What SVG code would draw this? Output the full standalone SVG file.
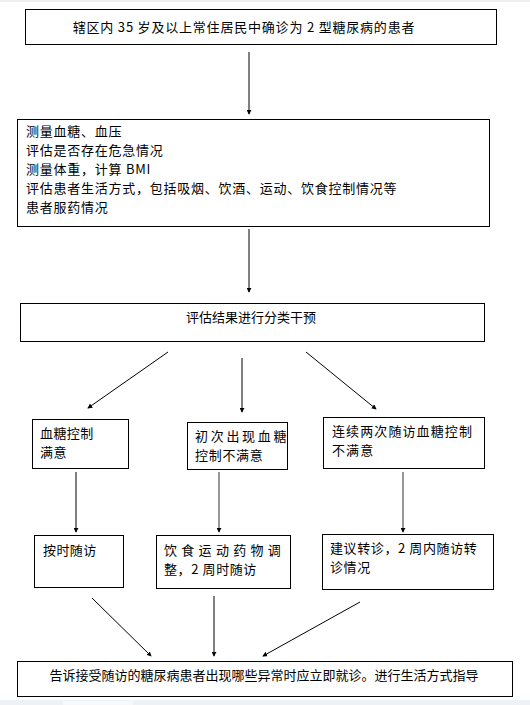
<svg xmlns="http://www.w3.org/2000/svg" width="530" height="705" viewBox="0 0 530 705">
<style>
.box{fill:#fff;stroke:#000;stroke-width:1}
text{font-family:"Noto Sans CJK SC","Noto Sans",sans-serif;font-size:13px;fill:#000}
.c{stroke:#000;stroke-width:1;fill:none;marker-end:url(#ah)}
.g{stroke:#6a6a6a;stroke-width:1.4;fill:none;marker-end:url(#ah)}
</style>
<defs>
<marker id="ah" viewBox="0 0 6 6" refX="5" refY="3" markerWidth="5" markerHeight="5" markerUnits="userSpaceOnUse" orient="auto">
<path d="M0,0 L6,3 L0,6 z" fill="#000"/>
</marker>
</defs>
<rect width="530" height="705" fill="#fff"/>
<rect x="0" y="0" width="530" height="2" fill="#f0f0f0"/>
<rect x="0" y="700" width="530" height="5" fill="#eef2f7"/>
<rect x="63" y="701" width="70" height="4" fill="#f6f8fb"/>

<g id="n1"><rect class="box" x="25.5" y="9.5" width="471" height="35"/>
<text x="244" y="31.5" text-anchor="middle" letter-spacing="0.8">辖区内 35 岁及以上常住居民中确诊为 2 型糖尿病的患者</text></g>

<g id="n2"><rect class="box" x="17.5" y="119.5" width="472" height="107"/>
<text x="26" letter-spacing="0.75"><tspan x="26" y="136">测量血糖、血压</tspan><tspan x="26" y="155">评估是否存在危急情况</tspan><tspan x="26" y="174">测量体重，计算 BMI</tspan><tspan x="26" y="193">评估患者生活方式，包括吸烟、饮酒、运动、饮食控制情况等</tspan><tspan x="26" y="212">患者服药情况</tspan></text></g>

<g id="n3"><rect class="box" x="20.5" y="303.5" width="464" height="38"/>
<text x="251" y="322" text-anchor="middle" font-size="13.5">评估结果进行分类干预</text></g>

<g id="nA"><rect class="box" x="32.5" y="419.5" width="96" height="49"/>
<text x="40" y="438" letter-spacing="0.4">血糖控制</text><text x="40" y="457" letter-spacing="0.4">满意</text></g>

<g id="nB"><rect class="box" x="187.5" y="422.5" width="100" height="47"/>
<text x="195" y="440.5" letter-spacing="2.7">初次出现血糖</text><text x="195" y="459.5" letter-spacing="0.7">控制不满意</text></g>

<g id="nC"><rect class="box" x="323.5" y="417.5" width="161" height="51"/>
<text x="332" y="436" letter-spacing="1.1">连续两次随访血糖控制</text><text x="332" y="455" letter-spacing="1.1">不满意</text></g>

<g id="nD"><rect class="box" x="34.5" y="535.5" width="89" height="52"/>
<text x="43" y="555" letter-spacing="0.4">按时随访</text></g>

<g id="nE"><rect class="box" x="156.5" y="535.5" width="134" height="53"/>
<text x="164" y="555" letter-spacing="4.3">饮食运动药物调</text><text x="164" y="574" letter-spacing="0.6">整，2 周时随访</text></g>

<g id="nF"><rect class="box" x="322.5" y="534.5" width="171" height="55"/>
<text x="330" y="553" letter-spacing="0.6">建议转诊，2 周内随访转</text><text x="330" y="572" letter-spacing="0.6">诊情况</text></g>

<g id="n4"><rect class="box" x="17.5" y="661.5" width="495" height="35"/>
<text x="264" y="680" text-anchor="middle" font-size="14">告诉接受随访的糖尿病患者出现哪些异常时应立即就诊。进行生活方式指导</text></g>

<g id="connectors">
<line class="c" x1="249" y1="52" x2="249" y2="114"/>
<line class="c" x1="249" y1="229" x2="249" y2="292"/>
<line class="c" x1="168" y1="352" x2="88" y2="408"/>
<line class="c" x1="242" y1="358" x2="242" y2="412"/>
<line class="c" x1="306" y1="352" x2="376" y2="409"/>
<line class="c" x1="76" y1="472" x2="76" y2="532"/>
<line class="g" x1="219" y1="472" x2="219" y2="532"/>
<line class="g" x1="403" y1="472" x2="403" y2="532"/>
<line class="c" x1="92" y1="598" x2="151" y2="656"/>
<line class="c" x1="214" y1="596" x2="214" y2="656"/>
<line class="c" x1="360" y1="602" x2="263" y2="656"/>
</g>
</svg>
